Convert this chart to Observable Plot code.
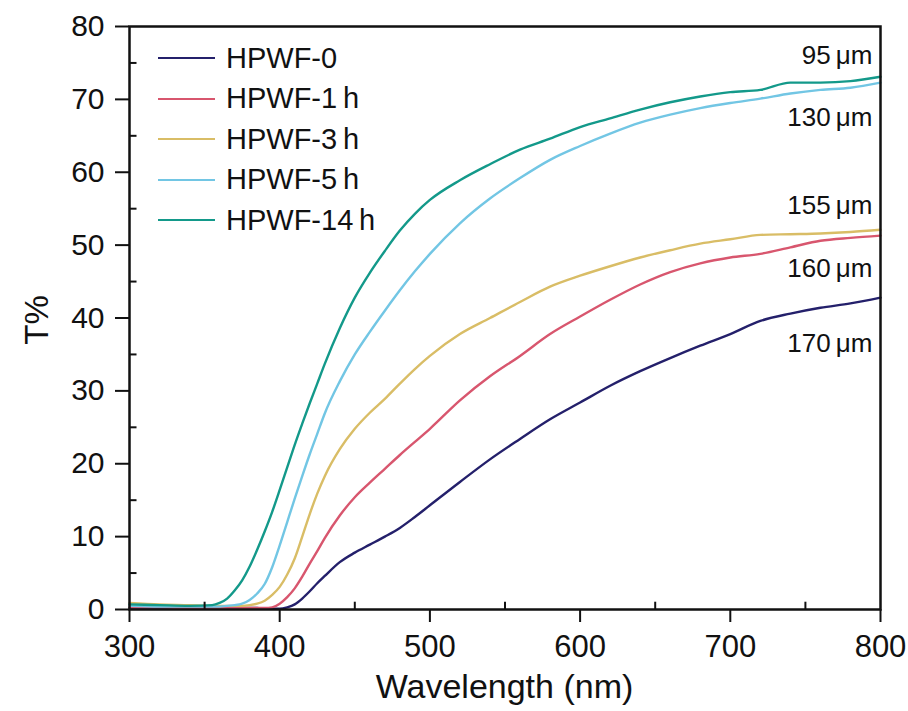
<!DOCTYPE html>
<html><head><meta charset="utf-8">
<script src="https://cdn.jsdelivr.net/npm/d3@7"></script>
<script src="https://cdn.jsdelivr.net/npm/@observablehq/plot@0.6"></script>
<style>
body{margin:0;background:#fff;}
#wrap{position:relative;width:908px;height:711px;font-family:"Liberation Sans",Arial,sans-serif;color:#111;}
#legend{position:absolute;left:158px;top:38px;font-size:29px;}
.item{display:flex;align-items:center;height:40.5px;white-space:nowrap;}
.sw{width:57px;height:0;border-top:2.5px solid;margin-right:11px;}
#xtitle{position:absolute;left:129px;width:751px;top:669px;text-align:center;font-size:34px;line-height:34px;}
#ytitle{position:absolute;left:36px;top:320px;font-size:33px;line-height:33px;transform:translate(-50%,-50%) rotate(-90deg);white-space:nowrap;}
</style></head>
<body><div id="wrap"><div id="chart"></div><div id="legend"></div><div id="xtitle">Wavelength (nm)</div><div id="ytitle">T%</div></div>
<script>
const wavelengths = [300,320,340,355,360,365,370,375,380,385,390,395,400,405,410,415,420,425,430,440,450,460,470,480,490,500,520,540,560,580,600,620,640,660,680,700,720,740,760,780,800];
const seriesNames = ["HPWF-0","HPWF-1\u2009h","HPWF-3\u2009h","HPWF-5\u2009h","HPWF-14\u2009h"];
const seriesColors = ["#24206b","#d8566e","#d9bd66","#72c6e4","#13998a"];
const T_0   = [0.2,0.2,0.2,0.2,0.2,0.2,0.2,0.2,0.2,0.2,0.1,0.1,0.1,0.3,0.7,1.5,2.5,3.6,4.6,6.5,7.8,8.9,10.0,11.2,12.7,14.3,17.5,20.6,23.4,26.1,28.4,30.7,32.7,34.5,36.2,37.8,39.6,40.6,41.4,42.0,42.8];
const T_1h  = [0.3,0.3,0.2,0.2,0.2,0.2,0.2,0.2,0.2,0.2,0.2,0.3,0.8,1.7,2.9,4.5,6.3,8.0,9.8,12.9,15.4,17.4,19.3,21.2,23.0,24.8,28.7,32.0,34.8,37.8,40.2,42.5,44.6,46.3,47.5,48.3,48.8,49.7,50.6,51.0,51.3];
const T_3h  = [0.9,0.7,0.6,0.5,0.5,0.5,0.5,0.5,0.6,0.8,1.2,2.0,3.1,4.8,7.0,10.0,13.1,15.9,18.3,22.0,24.8,27.0,28.9,31.0,33.0,34.8,37.8,40.0,42.2,44.3,45.8,47.1,48.3,49.3,50.2,50.8,51.4,51.5,51.6,51.8,52.1];
const T_5h  = [0.5,0.4,0.4,0.4,0.4,0.5,0.6,0.8,1.3,2.2,3.5,5.8,8.8,12.0,15.2,18.3,21.3,24.1,26.9,31.3,35.0,38.1,41.0,43.8,46.4,48.8,53.0,56.4,59.2,61.7,63.6,65.3,66.8,67.9,68.8,69.5,70.1,70.8,71.3,71.6,72.3];
const T_14h = [0.7,0.6,0.5,0.6,0.9,1.5,2.6,4.0,5.9,8.2,10.7,13.4,16.4,19.5,22.6,25.5,28.3,31.0,33.7,38.6,42.8,46.2,49.2,52.0,54.3,56.2,58.9,61.1,63.1,64.6,66.2,67.4,68.6,69.6,70.4,71.0,71.3,72.3,72.3,72.5,73.1];
const thicknessLabels = ["170\u2009μm","160\u2009μm","155\u2009μm","130\u2009μm","95\u2009μm"];
const xTicks = [300,400,500,600,700,800];
const xMinorTicks = [350,450,550,650,750];
const yTicks = [0,10,20,30,40,50,60,70,80];
const yMinorTicks = [5,15,25,35,45,55,65,75];

const allSeries = [T_0,T_1h,T_3h,T_5h,T_14h];
const rows = [];
allSeries.forEach((s,i)=>wavelengths.forEach((w,j)=>rows.push({w, t:s[j], name:seriesNames[i]})));
const endRows = allSeries.map((s,i)=>({w:wavelengths[wavelengths.length-1], t:s[s.length-1], label:thicknessLabels[i]}));
const labelDy = [46,33,-24,35,-21];

const plot = Plot.plot({
  width: 908, height: 711,
  marginLeft: 129, marginRight: 28, marginTop: 26, marginBottom: 102,
  style: {fontFamily: "Liberation Sans, Arial, sans-serif", background: "white", color: "#111", overflow: "visible"},
  x: {domain: [300,800]},
  y: {domain: [0,80]},
  color: {domain: seriesNames, range: seriesColors},
  marks: [
    Plot.line(rows, {x:"w", y:"t", stroke:"name", strokeWidth:2.4, curve:"monotone-x"}),
    Plot.ruleY(yMinorTicks, {y:d=>d, x1:300, x2:305, stroke:"#111", strokeWidth:2}),
    Plot.ruleX(xMinorTicks, {x:d=>d, y1:0, y2:1, stroke:"#111", strokeWidth:2}),
    Plot.axisY({ticks:yTicks, tickSize:14, tickPadding:11, fontSize:30, label:null, strokeWidth:2, tickFormat:d=>String(d)}),
    Plot.axisX({ticks:xTicks, tickSize:13, tickPadding:12, fontSize:31, label:null, strokeWidth:2, tickFormat:d=>String(d)}),
    Plot.frame({stroke:"#111", strokeWidth:2.5}),
    ...endRows.map((r,i)=>Plot.text([r], {x:"w", y:"t", text:"label", textAnchor:"end", dx:-8, dy:labelDy[i], fontSize:26, fill:"#111"}))
  ]
});
document.getElementById("chart").appendChild(plot);

const leg = document.getElementById("legend");
seriesNames.forEach((n,i)=>{
  const it = document.createElement("div"); it.className="item";
  const sw = document.createElement("span"); sw.className="sw"; sw.style.borderTopColor = seriesColors[i];
  const tx = document.createElement("span"); tx.textContent = n;
  it.appendChild(sw); it.appendChild(tx); leg.appendChild(it);
});
</script>
</body></html>
